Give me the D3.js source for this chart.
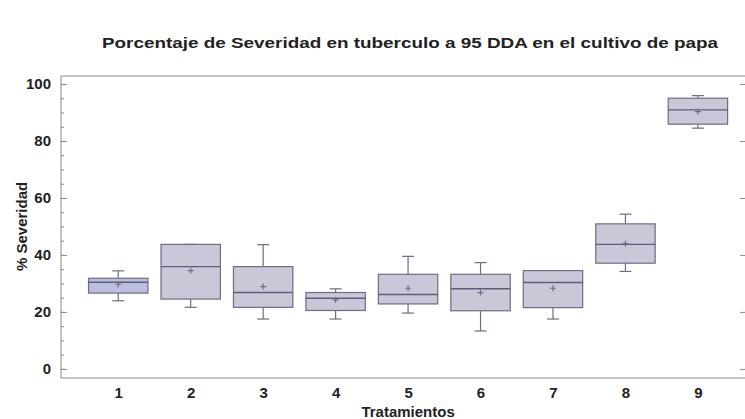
<!DOCTYPE html>
<html>
<head>
<meta charset="utf-8">
<script src="https://cdn.jsdelivr.net/npm/d3@7"></script>
<style>
  body { margin: 0; background: #fff; }
  svg { display: block; font-family: "Liberation Sans", Arial, sans-serif; }
  .axis path, .axis line { stroke: #8a8a8a; }
  .axis text { fill: #222; font-weight: bold; font-size: 15px; }
</style>
</head>
<body>
<script>

// valores
let tratamientos = [1, 2, 3, 4, 5, 6, 7, 8, 9]
let minimo  = [23.9, 21.6, 17.5, 17.5, 19.6, 13.3, 17.5, 34.2, 84.5]
let q1      = [26.6, 24.5, 21.6, 20.5, 22.8, 20.4, 21.5, 37.1, 85.9]
let mediana = [30.4, 35.9, 26.8, 24.8, 26.1, 28.1, 30.3, 43.7, 90.9]
let q3      = [31.8, 43.7, 35.9, 26.8, 33.2, 33.2, 34.5, 50.9, 95.0]
let maximo  = [34.4, 43.7, 43.6, 28.1, 39.5, 37.3, 34.5, 54.3, 95.9]
let media   = [29.7, 34.5, 28.9, 24.2, 28.3, 26.8, 28.3, 44.0, 90.3]
let yTicks  = [0, 20, 40, 60, 80, 100]

let width = 745, height = 419
let margin = {top: 76, right: 0, bottom: 41, left: 61}

let svg = d3.select("body").append("svg")
            .attr("width", width)
            .attr("height", height)

let x = d3.scaleLinear().domain([0.21, 9.65]).range([margin.left, width - margin.right])
let y = d3.scaleLinear().domain([-3.2, 102.8]).range([height - margin.bottom, margin.top])

let boxHalf = 0.41
let capHalf = 6

// marco
svg.append("line")
   .attr("x1", margin.left).attr("x2", width)
   .attr("y1", margin.top).attr("y2", margin.top)
   .attr("stroke", "#8a8a8a")

// eje Y: marcas menores y mayores hacia dentro
svg.append("g")
   .attr("class", "axis")
   .attr("transform", "translate(" + margin.left + ",0)")
   .call(d3.axisLeft(y).tickValues(d3.range(0, 101, 5)).tickSize(-3).tickFormat(""))
   .call(g => g.select(".domain").remove())

svg.append("g")
   .attr("class", "axis")
   .attr("transform", "translate(" + margin.left + ",0)")
   .call(d3.axisLeft(y).tickValues(yTicks).tickSize(-6).tickPadding(10).tickSizeOuter(0))
   .call(g => g.select(".domain").attr("d", "M0," + y.range()[0] + "V" + y.range()[1]))

svg.append("g")
   .attr("class", "axis")
   .attr("transform", "translate(" + width + ",0)")
   .call(d3.axisRight(y).tickValues(yTicks).tickSize(-5).tickFormat(""))
   .call(g => g.select(".domain").remove())

// eje X
svg.append("g")
   .attr("class", "axis")
   .attr("transform", "translate(0," + (height - margin.bottom) + ")")
   .call(d3.axisBottom(x).tickValues(tratamientos).tickSize(0).tickPadding(9).tickFormat(d3.format("d")))
   .call(g => g.select(".domain").attr("d", "M" + margin.left + ",0H" + width))

// cajas
let boxes = svg.selectAll(".box")
               .data(tratamientos)
               .enter()
               .append("g")
               .attr("class", "box")

boxes.append("line")
     .attr("x1", d => x(d)).attr("x2", d => x(d))
     .attr("y1", (d, i) => y(maximo[i])).attr("y2", (d, i) => y(q3[i]))
     .attr("stroke", "#6c6c86").attr("stroke-width", 1.2)

boxes.append("line")
     .attr("x1", d => x(d)).attr("x2", d => x(d))
     .attr("y1", (d, i) => y(q1[i])).attr("y2", (d, i) => y(minimo[i]))
     .attr("stroke", "#6c6c86").attr("stroke-width", 1.2)

boxes.append("line")
     .attr("x1", d => x(d) - capHalf).attr("x2", d => x(d) + capHalf)
     .attr("y1", (d, i) => y(maximo[i])).attr("y2", (d, i) => y(maximo[i]))
     .attr("stroke", "#6c6c86").attr("stroke-width", 1.2)

boxes.append("line")
     .attr("x1", d => x(d) - capHalf).attr("x2", d => x(d) + capHalf)
     .attr("y1", (d, i) => y(minimo[i])).attr("y2", (d, i) => y(minimo[i]))
     .attr("stroke", "#6c6c86").attr("stroke-width", 1.2)

boxes.append("rect")
     .attr("x", d => x(d - boxHalf))
     .attr("width", d => x(d + boxHalf) - x(d - boxHalf))
     .attr("y", (d, i) => y(q3[i]))
     .attr("height", (d, i) => y(q1[i]) - y(q3[i]))
     .attr("fill", (d, i) => i == 0 ? "#bebedf" : "#c8c8d8")
     .attr("stroke", "#6c6c86")
     .attr("stroke-width", 1.2)

boxes.append("line")
     .attr("x1", d => x(d - boxHalf)).attr("x2", d => x(d + boxHalf))
     .attr("y1", (d, i) => y(mediana[i])).attr("y2", (d, i) => y(mediana[i]))
     .attr("stroke", "#5e5e7c").attr("stroke-width", 1.4)

// media como "+"
boxes.append("path")
     .attr("d", (d, i) => "M" + (x(d) - 3) + "," + y(media[i]) + "h6M" + x(d) + "," + (y(media[i]) - 3) + "v6")
     .attr("stroke", "#6c6c86")
     .attr("stroke-width", 1.2)
     .attr("fill", "none")

// textos
svg.append("text")
   .attr("x", 410).attr("y", 48)
   .attr("text-anchor", "middle")
   .attr("font-size", 14).attr("font-weight", "bold").attr("fill", "#222")
   .attr("textLength", 616).attr("lengthAdjust", "spacingAndGlyphs")
   .text("Porcentaje de Severidad en tuberculo a 95 DDA en el cultivo de papa")

svg.append("text")
   .attr("transform", "translate(27," + y(50) + ") rotate(-90)")
   .attr("text-anchor", "middle")
   .attr("font-size", 15).attr("font-weight", "bold").attr("fill", "#222")
   .text("% Severidad")

svg.append("text")
   .attr("x", x(5)).attr("y", 417)
   .attr("text-anchor", "middle")
   .attr("font-size", 15).attr("font-weight", "bold").attr("fill", "#222")
   .text("Tratamientos")

</script>
</body>
</html>
